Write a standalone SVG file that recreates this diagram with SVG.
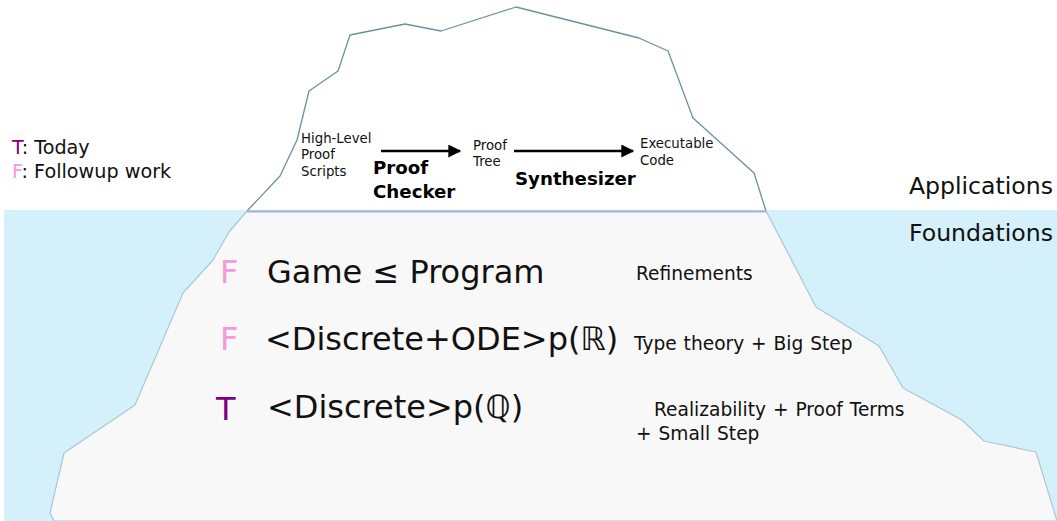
<svg xmlns="http://www.w3.org/2000/svg" width="1057" height="521" viewBox="0 0 1057 521">
  <defs>
    <marker id="head" viewBox="0 0 10 10" refX="9" refY="5" markerWidth="5.6" markerHeight="5" orient="auto" markerUnits="strokeWidth">
      <path d="M0,0 L10,5 L0,10 Z" fill="#000"/>
    </marker>
    <style>
      text { font-family: "DejaVu Sans", Verdana, sans-serif; fill: #111; }
      .small { font-size: 13.3px; }
      .bold { font-size: 18.2px; font-weight: bold; fill: #000; }
      .layer { font-size: 23.6px; text-anchor: end; }
      .legend { font-size: 19.2px; }
      .big { font-size: 32px; }
      .note { font-size: 18.6px; word-spacing: 1px; }
      .today { fill: #800080; }
      .follow { fill: #f59ad9; }
      .arrow { stroke: #000; stroke-width: 2.6; fill: none; marker-end: url(#head); }
    </style>
  </defs>

  <rect width="1057" height="521" fill="#fff"/>

  <!-- sea -->
  <rect id="water" x="4" y="210" width="1053" height="311" fill="#d4f0fa"/>

  <!-- iceberg: tip above the water line -->
  <g id="tip">
    <path d="M247,211 L280,176 L297,140 L309,91 L338,71 L350,35 L405,24 L441,31 L516,7 L639,38 L668,51 L693,118 L754,173 L766,211"
          fill="#fff" stroke="#6a929f" stroke-width="1.3" stroke-linejoin="round"/>
  </g>

  <!-- iceberg: submerged body -->
  <g id="body">
    <path d="M247,211 L229,232 L213,260 L183,293 L135,405 L64,453 L50,513 L54,521 L1057,521 L1036,452 L984,441 L962,420 L903,388 L879,346 L816,307 L766,211 Z"
          fill="#f8f8f8" stroke="#a9c8d3" stroke-width="1.2" stroke-linejoin="round"/>
    <line x1="247" y1="211.5" x2="766" y2="211.5" stroke="#a6afd6" stroke-width="2"/>
  </g>

  <!-- legend -->
  <g id="legend">
    <text class="legend" x="12" y="154"><tspan class="today">T</tspan>: Today</text>
    <text class="legend" x="12" y="178"><tspan class="follow">F</tspan>: Followup work</text>
  </g>

  <!-- layer labels -->
  <g id="applications"><text class="layer" x="1053" y="194">Applications</text></g>
  <g id="foundations"><text class="layer" x="1053" y="241">Foundations</text></g>

  <!-- pipeline nodes -->
  <g id="scripts">
    <text class="small" x="301" y="143">High-Level</text>
    <text class="small" x="301" y="159">Proof</text>
    <text class="small" x="301" y="176">Scripts</text>
  </g>
  <g id="tree">
    <text class="small" x="473" y="150">Proof</text>
    <text class="small" x="473" y="166">Tree</text>
  </g>
  <g id="code">
    <text class="small" x="640" y="148">Executable</text>
    <text class="small" x="640" y="165">Code</text>
  </g>

  <!-- pipeline connectors -->
  <g id="connectors">
    <line class="arrow" x1="381" y1="151" x2="460" y2="151"/>
    <text class="bold" x="373" y="174">Proof</text>
    <text class="bold" x="373" y="198">Checker</text>
    <line class="arrow" x1="514" y1="151" x2="633" y2="151"/>
    <text class="bold" x="515" y="185">Synthesizer</text>
  </g>

  <!-- foundation layers -->
  <g id="games">
    <text class="big follow" x="220" y="283">F</text>
    <text class="big" x="267" y="283">Game ≤ Program</text>
    <text class="note" x="636" y="280">Refinements</text>
  </g>
  <g id="ode">
    <text class="big follow" x="220" y="350">F</text>
    <text class="big" x="265" y="350">&lt;Discrete+ODE&gt;p(ℝ)</text>
    <text class="note" x="634" y="350">Type theory + Big Step</text>
  </g>
  <g id="discrete">
    <text class="big today" x="216" y="420">T</text>
    <text class="big" x="267" y="418">&lt;Discrete&gt;p(ℚ)</text>
    <text class="note" x="654" y="416">Realizability + Proof Terms</text>
    <text class="note" x="636" y="440">+ Small Step</text>
  </g>
</svg>
